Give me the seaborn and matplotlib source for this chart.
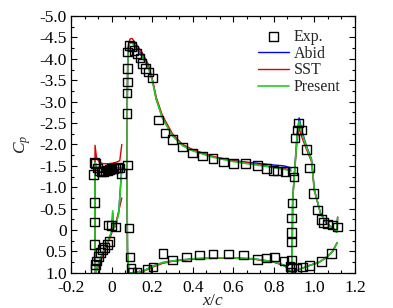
import numpy as np
import pandas as pd
import matplotlib
matplotlib.use('Agg')
import matplotlib.pyplot as plt
import seaborn as sns
from matplotlib.ticker import AutoMinorLocator, MultipleLocator, FuncFormatter

# ---- experimental data (open squares) ----
exp_x = [-0.088, -0.085, -0.08, -0.07, -0.06, -0.05, -0.04, -0.03, -0.02, -0.01, 0.0, 0.01, 0.02, 0.03, 0.04, 0.05,
         -0.083, -0.083, -0.083, -0.082, -0.08, -0.075, -0.065, -0.055, -0.045, -0.035, -0.02, -0.01, -0.017, 0.0, 0.017,
         0.076, 0.076, 0.077, 0.078, 0.08, 0.088, 0.1, 0.11, 0.125, 0.14, 0.15, 0.165, 0.18, 0.2, 0.23, 0.263, 0.3,
         0.35, 0.4, 0.45, 0.5, 0.55, 0.6, 0.66, 0.72, 0.765, 0.8, 0.82, 0.855, 0.894, 0.9,
         0.08, 0.086, 0.09, 0.095, 0.1, 0.125, 0.174, 0.204, 0.253, 0.3, 0.37, 0.435, 0.5, 0.575, 0.65, 0.72,
         0.765, 0.805, 0.85, 0.88, 0.885,
         0.888, 0.888, 0.888, 0.887, 0.887, 0.89, 0.905, 0.915, 0.923, 0.935, 0.963, 0.975, 0.997, 1.017, 1.035,
         1.046, 1.066, 1.09, 1.115, 0.913, 0.94, 0.975, 1.035, 1.085]
exp_cp = [-1.3, -1.58, -1.55, -1.45, -1.38, -1.36, -1.36, -1.38, -1.4, -1.42, -1.43, -1.44, -1.45, -1.46, -1.45, -1.32,
          -0.65, -0.19, 0.33, 0.9, 0.8, 0.72, 0.62, 0.52, 0.45, 0.4, 0.33, 0.27, -0.12, -0.1, -0.07,
          -2.73, -3.2, -3.46, -3.78, -4.16, -4.32, -4.28, -4.2, -4.13, -4.02, -3.9, -3.78, -3.69, -3.55, -2.57, -2.27, -2.12,
          -1.94, -1.8, -1.73, -1.68, -1.59, -1.56, -1.56, -1.5, -1.43, -1.4, -1.38, -1.36, -1.38, -1.24,
          -1.52, -0.05, 0.63, 0.89, 1.0, 1.0, 0.91, 0.86, 0.55, 0.7, 0.63, 0.58, 0.56, 0.56, 0.58, 0.68,
          0.65, 0.63, 0.72, 0.85, 0.98,
          0.86, 0.7, 0.28, 0.05, -0.28, -0.63, -2.15, -2.34, -2.5, -2.34, -1.89, -1.45, -0.86, -0.47, -0.25,
          -0.17, -0.14, -0.12, -0.07, 0.89, 0.86, 0.82, 0.74, 0.54]

# ---- CFD curves: each element as one loop (upper TE -> LE -> lower TE) ----
slat_x = [0.05, 0.04, 0.03, 0.02, 0.01, 0.0, -0.02, -0.04, -0.06, -0.075, -0.082, -0.083, -0.082, -0.08,
          -0.07, -0.06, -0.05, -0.04, -0.03, -0.02, -0.01, 0.0, 0.005, 0.01, 0.02, 0.035, 0.05]
slat_present = [-1.45, -1.45, -1.44, -1.42, -1.41, -1.4, -1.37, -1.35, -1.36, -1.45, -1.58, -0.5, 0.5, 1.0,
                0.85, 0.72, 0.6, 0.48, 0.38, 0.28, 0.15, 0.02, -0.45, -0.05, -0.1, -0.4, -1.45]
slat_abid = [-1.46, -1.46, -1.45, -1.43, -1.42, -1.41, -1.38, -1.36, -1.37, -1.46, -1.6, -0.5, 0.5, 1.0,
             0.86, 0.73, 0.61, 0.49, 0.39, 0.29, 0.16, 0.03, -0.4, -0.05, -0.1, -0.42, -1.46]
slat_sst = [-2.0, -1.62, -1.6, -1.58, -1.57, -1.56, -1.55, -1.55, -1.58, -1.7, -1.98, -0.5, 0.5, 1.0,
            0.9, 0.78, 0.66, 0.54, 0.43, 0.32, 0.2, 0.08, -0.3, -0.05, -0.15, -0.45, -0.75]

main_x = [0.885, 0.85, 0.8, 0.7, 0.6, 0.5, 0.4, 0.35, 0.3, 0.25, 0.22, 0.2, 0.18, 0.15, 0.12, 0.1, 0.09,
          0.08, 0.077, 0.076, 0.078, 0.085, 0.1, 0.15, 0.2, 0.25, 0.3, 0.4, 0.5, 0.6, 0.7, 0.8, 0.85, 0.885]
main_present = [-1.38, -1.42, -1.46, -1.53, -1.6, -1.7, -1.85, -1.97, -2.2, -2.62, -3.05, -3.5, -3.8, -4.05,
                -4.25, -4.38, -4.38, -4.2, -3.0, -1.0, 0.5, 1.0, 1.0, 0.97, 0.85, 0.76, 0.72, 0.67, 0.65, 0.65,
                0.67, 0.74, 0.82, 0.97]
main_abid = [-1.45, -1.5, -1.52, -1.57, -1.62, -1.71, -1.86, -1.98, -2.21, -2.63, -3.06, -3.52, -3.82, -4.08,
             -4.28, -4.4, -4.4, -4.22, -3.0, -1.0, 0.5, 1.0, 1.0, 0.97, 0.85, 0.76, 0.72, 0.67, 0.65, 0.65,
             0.67, 0.74, 0.82, 0.97]
main_sst = [-1.4, -1.44, -1.47, -1.55, -1.62, -1.72, -1.88, -2.0, -2.25, -2.68, -3.1, -3.55, -3.88, -4.15,
            -4.35, -4.48, -4.46, -4.25, -3.0, -1.0, 0.5, 1.0, 1.0, 0.98, 0.87, 0.78, 0.73, 0.68, 0.66, 0.66,
            0.68, 0.75, 0.83, 0.97]

flap_x = [1.115, 1.11, 1.09, 1.06, 1.03, 1.0, 0.986, 0.96, 0.94, 0.925, 0.915, 0.903, 0.893, 0.89,
          0.892, 0.91, 0.94, 0.98, 1.02, 1.06, 1.09, 1.112]
flap_present = [-0.3, 0.05, -0.05, -0.16, -0.4, -0.93, -1.64, -1.95, -2.25, -2.55, -2.2, -1.4, -0.7, 0.9,
                1.0, 0.95, 0.89, 0.82, 0.76, 0.64, 0.5, 0.3]
flap_abid = [-0.3, 0.05, -0.05, -0.16, -0.4, -0.95, -1.66, -1.98, -2.3, -2.62, -2.25, -1.42, -0.7, 0.9,
             1.0, 0.95, 0.89, 0.82, 0.76, 0.64, 0.5, 0.3]
flap_sst = [-0.3, 0.05, -0.05, -0.16, -0.4, -0.92, -1.6, -1.9, -2.15, -2.38, -2.1, -1.38, -0.7, 0.9,
            1.0, 0.95, 0.89, 0.82, 0.76, 0.64, 0.5, 0.3]

# ---- style ----
sns.set_style('ticks', {'xtick.direction': 'in', 'ytick.direction': 'in'})
plt.rcParams['font.family'] = ['Liberation Serif', 'DejaVu Serif']
plt.rcParams['mathtext.fontset'] = 'custom'
plt.rcParams['mathtext.rm'] = 'Liberation Serif'
plt.rcParams['mathtext.it'] = 'Liberation Serif:italic'
FS = 12.5

fig = plt.figure(figsize=(3.93, 3.08), dpi=100)
ax = fig.add_axes([0.181, 0.114, 0.722, 0.834])

models = [('Abid', 'blue', slat_abid, main_abid, flap_abid, 1.0, 2),
          ('SST', '#e00000', slat_sst, main_sst, flap_sst, 1.0, 2.1),
          ('Present', '#22cc22', slat_present, main_present, flap_present, 1.2, 2.2)]

exp_df = pd.DataFrame({'x': exp_x, 'cp': exp_cp})
sns.scatterplot(data=exp_df, x='x', y='cp', marker='s', s=40, facecolor='none',
                edgecolor='black', linewidth=1.0, ax=ax, label='Exp.', zorder=3)

for name, col, s_cp, m_cp, f_cp, lw, z in models:
    for i, (xx, cc) in enumerate([(slat_x, s_cp), (main_x, m_cp), (flap_x, f_cp)]):
        df = pd.DataFrame({'x': xx, 'cp': cc})
        sns.lineplot(data=df, x='x', y='cp', sort=False, estimator=None, color=col,
                     linewidth=lw, ax=ax, label=name if i == 0 else None, zorder=z)

ax.set_xlim(-0.2, 1.2)
ax.set_ylim(1.0, -5.0)
ax.xaxis.set_major_locator(MultipleLocator(0.2))
ax.xaxis.set_minor_locator(AutoMinorLocator(3))
ax.yaxis.set_major_locator(MultipleLocator(0.5))
ax.yaxis.set_minor_locator(AutoMinorLocator(2))

fmt = FuncFormatter(lambda v, p: '0' if abs(v) < 1e-9 else ('%.1f' % v))
ax.xaxis.set_major_formatter(fmt)
ax.yaxis.set_major_formatter(fmt)

ax.tick_params(which='both', direction='in', top=True, right=True, labelsize=FS, width=0.8, colors='black')
ax.tick_params(which='major', length=4.5)
ax.tick_params(axis='x', which='major', pad=5)
ax.tick_params(axis='y', which='major', pad=3)
ax.tick_params(which='minor', length=2.5)
for sp in ax.spines.values():
    sp.set_linewidth(0.9)
    sp.set_color('black')

ax.set_xlabel('$x/c$', fontsize=FS, labelpad=-2)
ax.set_ylabel('$C_p$', fontsize=FS, labelpad=5)

leg = ax.legend(loc='upper left', bbox_to_anchor=(0.66, 0.95), frameon=False, fontsize=11.5,
                handlelength=1.9, handletextpad=0.3, labelspacing=0.05, borderpad=0, borderaxespad=0)

fig.savefig('out.png', dpi=100)
